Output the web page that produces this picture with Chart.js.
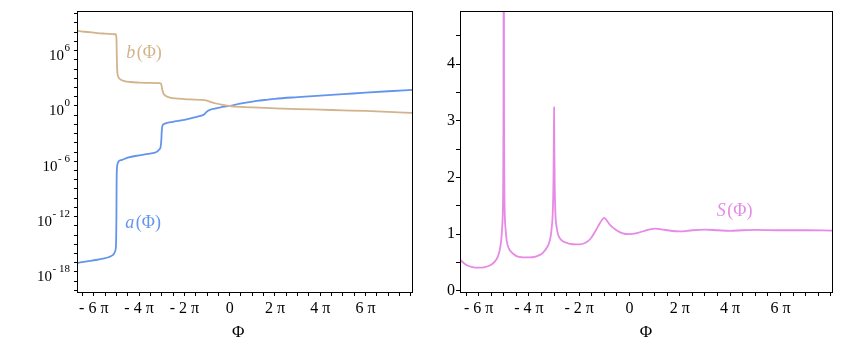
<!DOCTYPE html>
<html>
<head>
<meta charset="utf-8">
<script src="https://cdn.jsdelivr.net/npm/chart.js@4.4.0/dist/chart.umd.min.js"></script>
<style>
  body { margin: 0; background: #fff; }
  #wrap { position: relative; width: 843px; height: 346px; }
  .panel { position: absolute; top: 0; height: 346px; }
</style>
</head>
<body>
<div id="wrap">
  <div class="panel" style="left:0;width:420px"><canvas id="leftChart" width="420" height="346"></canvas></div>
  <div class="panel" style="left:420px;width:423px"><canvas id="rightChart" width="423" height="346"></canvas></div>
</div>
<script>
// ============================================================================
// DATA  (Phi is given in units of pi, a and b as powers of ten)
// ============================================================================

const phiB = [-6.74, -6.4, -6.0, -5.6, -5.2, -5.03, -5.0, -4.98, -4.96, -4.93, -4.88, -4.8, -4.65, -4.4,
              -4.0, -3.5, -3.1, -3.03, -3.0, -2.97, -2.93, -2.88, -2.8, -2.65, -2.4, -2.0, -1.6, -1.25,
              -1.05, -0.85, -0.6, -0.3, 0, 0.5, 1.0, 2.0, 3.0, 4.0, 5.0, 6.0, 7.0, 8.05];
const logB = [8.17, 8.05, 7.95, 7.86, 7.8, 7.78, 7.4, 5.0, 3.7, 3.25, 3.0, 2.85, 2.7, 2.6,
              2.54, 2.5, 2.47, 2.42, 2.1, 1.7, 1.4, 1.2, 1.05, 0.92, 0.82, 0.75, 0.7, 0.66,
              0.6, 0.45, 0.27, 0.12, 0, -0.1, -0.16, -0.25, -0.33, -0.4, -0.47, -0.54, -0.63, -0.75];

const phiA = [-6.74, -6.3, -5.9, -5.6, -5.35, -5.18, -5.1, -5.05, -5.02, -5.0, -4.99, -4.97, -4.94, -4.9,
              -4.75, -4.5, -4.0, -3.6, -3.3, -3.18, -3.1, -3.05, -3.02, -3.0, -2.98, -2.95, -2.9, -2.8,
              -2.5, -2.0, -1.6, -1.35, -1.15, -1.0, -0.85, -0.7, -0.4, 0, 0.4, 0.8, 1.2, 1.6, 2.0,
              3.0, 4.0, 5.0, 6.0, 7.0, 8.05];
const logA = [-17.03, -16.85, -16.7, -16.55, -16.4, -16.2, -16.0, -15.7, -15.2, -12.0, -8.0, -6.6, -6.2, -6.0,
              -5.85, -5.6, -5.35, -5.2, -5.05, -4.9, -4.7, -4.45, -3.8, -2.8, -2.3, -2.05, -1.95, -1.85,
              -1.72, -1.5, -1.27, -1.1, -0.95, -0.6, -0.4, -0.3, -0.15, 0, 0.22, 0.4, 0.55, 0.67, 0.78,
              0.96, 1.12, 1.28, 1.45, 1.6, 1.74];

const phiS = [-6.74, -6.5, -6.25, -6.0, -5.75, -5.5, -5.35, -5.24, -5.16, -5.1, -5.06, -5.04, -5.025, -5.012,
              -5.0, -4.988, -4.975, -4.96, -4.93, -4.88, -4.8, -4.64, -4.4, -4.0, -3.7, -3.5, -3.35, -3.22,
              -3.14, -3.09, -3.05, -3.025, -3.01, -3.0, -2.99, -2.975, -2.95, -2.9, -2.83, -2.72, -2.45, -2.0,
              -1.75, -1.55, -1.35, -1.2, -1.08, -1.0, -0.92, -0.75, -0.55, -0.3, 0, 0.3, 0.6, 0.85, 1.0,
              1.2, 1.5, 2.0, 2.5, 3.0, 3.5, 4.0, 4.5, 5.0, 6.0, 7.0, 8.05];
const valS = [0.55, 0.46, 0.42, 0.41, 0.42, 0.46, 0.52, 0.6, 0.72, 0.9, 1.15, 1.35, 1.8, 3.0,
              8.0, 3.0, 1.8, 1.35, 1.1, 0.88, 0.75, 0.66, 0.6, 0.59, 0.61, 0.65, 0.72, 0.82,
              0.95, 1.13, 1.4, 1.9, 2.6, 3.24, 2.6, 1.9, 1.4, 1.13, 0.98, 0.9, 0.84, 0.82,
              0.85, 0.92, 1.06, 1.18, 1.26, 1.29, 1.25, 1.15, 1.08, 1.02, 1.0, 1.02, 1.06, 1.09, 1.1,
              1.09, 1.07, 1.05, 1.07, 1.08, 1.07, 1.06, 1.07, 1.075, 1.07, 1.07, 1.065];

// tick labels
const phiTickLabels = [-6, -4, -2, 0, 2, 4, 6];   // multiples of pi
const powerTickLabels = [-18, -12, -6, 0, 6];     // powers of ten
const sTickLabels = [0, 1, 2, 3, 4];

// ============================================================================
// STYLE
// ============================================================================

const SERIF = '"Liberation Serif", "DejaVu Serif", serif';
const COLOR_A = '#6495ED';
const COLOR_B = '#D2B48C';
const COLOR_S = '#E68AE6';

function toPoints(xs, ys, f) {
    return xs.map((x, i) => ({ x: x, y: f ? f(ys[i]) : ys[i] }));
}

function piLabel(v) {
    if (v === 0) return '0';
    return v < 0 ? '- ' + (-v) + ' π' : v + ' π';
}

// Phi axis shared by both panels: ticks every pi/2, labels every 2 pi
function phiAxis(titleText) {
    return {
        type: 'linear',
        min: -6.74,
        max: 8.05,
        afterBuildTicks: scale => {
            const t = [];
            for (let v = -6.5; v <= 8; v += 0.5) t.push({ value: v });
            scale.ticks = t;
        },
        ticks: {
            autoSkip: false,
            maxRotation: 0,
            padding: 3,
            color: '#000',
            font: { family: SERIF, size: 16 },
            callback: v => phiTickLabels.includes(v) ? piLabel(v) : ''
        },
        grid: { drawOnChartArea: false, drawTicks: true, tickLength: 4, color: '#000' },
        border: { display: false },
        title: {
            display: true,
            text: titleText,
            color: '#000',
            font: { family: SERIF, size: 17 },
            padding: { top: 0, bottom: 3 }
        },
        afterFit: scale => { scale.height = 54; }
    };
}

// frame around the plot area
const framePlugin = {
    id: 'frame',
    afterDraw(chart) {
        const { ctx, chartArea: a } = chart;
        ctx.save();
        ctx.strokeStyle = '#000';
        ctx.lineWidth = 1;
        ctx.strokeRect(Math.round(a.left) + 0.5, Math.round(a.top) + 0.5,
                       Math.round(a.right - a.left), Math.round(a.bottom - a.top));
        ctx.restore();
    }
};

// a(Phi), b(Phi), S(Phi) labels placed at data coordinates
const funcLabels = {
    id: 'funcLabels',
    afterDraw(chart, args, opts) {
        const { ctx, scales: { x, y } } = chart;
        ctx.save();
        ctx.textBaseline = 'middle';
        ctx.textAlign = 'left';
        (opts.items || []).forEach(it => {
            const px = x.getPixelForValue(it.x);
            const py = y.getPixelForValue(it.y);
            ctx.fillStyle = it.color;
            ctx.font = 'italic 18px ' + SERIF;
            ctx.fillText(it.letter, px, py);
            const w = ctx.measureText(it.letter).width;
            ctx.font = '18px ' + SERIF;
            ctx.fillText('(Φ)', px + w + 1.5, py);
        });
        ctx.restore();
    }
};

// 10^n labels with raised exponent
const powerLabels = {
    id: 'powerLabels',
    afterDraw(chart) {
        const { ctx, scales: { y } } = chart;
        ctx.save();
        ctx.fillStyle = '#000';
        ctx.textAlign = 'right';
        ctx.textBaseline = 'alphabetic';
        powerTickLabels.forEach(k => {
            const py = y.getPixelForValue(Math.pow(10, k));
            const exp = k < 0 ? '- ' + (-k) : String(k);
            ctx.font = '11px ' + SERIF;
            const ew = ctx.measureText(exp).width;
            ctx.fillText(exp, 70, py + 0.5);
            ctx.font = '15px ' + SERIF;
            ctx.fillText('10', 70 - ew - 0.5, py + 9.5);
        });
        ctx.restore();
    }
};

// ============================================================================
// LEFT PANEL: a(Phi), b(Phi)
// ============================================================================

new Chart(document.getElementById('leftChart').getContext('2d'), {
    type: 'line',
    data: {
        datasets: [{
            label: 'b',
            data: toPoints(phiB, logB, e => Math.pow(10, e)),
            borderColor: COLOR_B,
            borderWidth: 1.8,
            pointRadius: 0,
            cubicInterpolationMode: 'monotone'
        }, {
            label: 'a',
            data: toPoints(phiA, logA, e => Math.pow(10, e)),
            borderColor: COLOR_A,
            borderWidth: 1.8,
            pointRadius: 0,
            cubicInterpolationMode: 'monotone'
        }]
    },
    options: {
        responsive: false,
        animation: false,
        layout: { padding: { top: 11, right: 8, left: 0, bottom: 0 } },
        plugins: {
            legend: { display: false },
            tooltip: { enabled: false },
            funcLabels: {
                items: [
                    { letter: 'b', x: -4.57, y: Math.pow(10, 5.72), color: COLOR_B },
                    { letter: 'a', x: -4.61, y: Math.pow(10, -12.72), color: COLOR_A }
                ]
            }
        },
        scales: {
            x: phiAxis('Φ   '),
            y: {
                type: 'logarithmic',
                min: Math.pow(10, -20.17),
                max: Math.pow(10, 10.3),
                afterBuildTicks: scale => {
                    const t = [];
                    for (let k = -20; k <= 10; k++) t.push({ value: Math.pow(10, k) });
                    scale.ticks = t;
                },
                ticks: { autoSkip: false, callback: () => '' },
                grid: { drawOnChartArea: false, drawTicks: true, tickLength: 3, color: '#000' },
                border: { display: false },
                afterFit: scale => { scale.width = 77; }
            }
        }
    },
    plugins: [framePlugin, funcLabels, powerLabels]
});

// ============================================================================
// RIGHT PANEL: S(Phi)
// ============================================================================

new Chart(document.getElementById('rightChart').getContext('2d'), {
    type: 'line',
    data: {
        datasets: [{
            label: 'S',
            data: toPoints(phiS, valS),
            borderColor: COLOR_S,
            borderWidth: 1.8,
            pointRadius: 0,
            cubicInterpolationMode: 'monotone'
        }]
    },
    options: {
        responsive: false,
        animation: false,
        layout: { padding: { top: 11, right: 11, left: 0, bottom: 0 } },
        plugins: {
            legend: { display: false },
            tooltip: { enabled: false },
            funcLabels: {
                items: [{ letter: 'S', x: 3.47, y: 1.40, color: COLOR_S }]
            }
        },
        scales: {
            x: phiAxis('Φ'),
            y: {
                type: 'linear',
                min: -0.02,
                max: 4.94,
                afterBuildTicks: scale => {
                    const t = [];
                    for (let v = 0; v <= 4.5; v += 0.5) t.push({ value: v });
                    scale.ticks = t;
                },
                ticks: {
                    autoSkip: false,
                    padding: 1,
                    color: '#000',
                    font: { family: SERIF, size: 16 },
                    callback: v => sTickLabels.includes(v) ? String(v) : ''
                },
                grid: { drawOnChartArea: false, drawTicks: true, tickLength: 4, color: '#000' },
                border: { display: false },
                afterFit: scale => { scale.width = 40; }
            }
        }
    },
    plugins: [framePlugin, funcLabels]
});
</script>
</body>
</html>
